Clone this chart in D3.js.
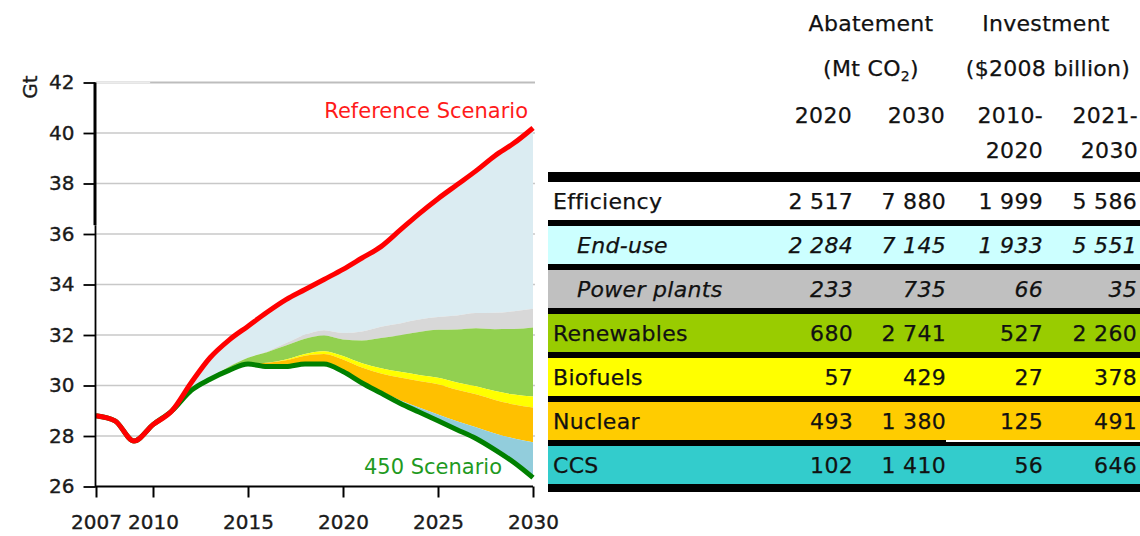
<!DOCTYPE html>
<html><head><meta charset="utf-8">
<script src="https://cdn.jsdelivr.net/npm/d3@7"></script>
<style>body{margin:0;background:#fff}svg{display:block}</style>
</head><body>
<svg id="c" width="1140" height="536"></svg>
<script>
// ---------- DATA ----------
const years = [2007,2008,2009,2010,2011,2012,2013,2014,2015,2016,2017,2018,2019,2020,2021,2022,2023,2024,2025,2026,2027,2028,2029,2030];
const referenceScenario = [28.8,28.6,27.8,28.45,29.0,30.1,31.1,31.8,32.35,32.9,33.4,33.8,34.2,34.6,35.05,35.5,36.15,36.8,37.4,37.95,38.5,39.1,39.6,40.2];
const scenario450 = [28.8,28.6,27.8,28.45,29.0,29.8,30.25,30.6,30.85,30.75,30.75,30.85,30.85,30.55,30.1,29.7,29.3,28.95,28.6,28.25,27.9,27.45,26.95,26.35];
// wedge thickness (Gt) stacked upward from the 450 Scenario line
const ccs         = [0,0,0,0,0,0,0,0,0,0,0,0,0,0.03,0.06,0.08,0.12,0.18,0.25,0.33,0.45,0.65,0.95,1.4];
const nuclear     = [0,0,0,0,0,0,0,0,0,0.15,0.25,0.33,0.4,0.45,0.55,0.7,0.9,1.05,1.2,1.25,1.3,1.33,1.35,1.38];
const biofuels    = [0,0,0,0,0,0,0,0,0,0,0.03,0.07,0.11,0.14,0.17,0.2,0.22,0.24,0.26,0.29,0.32,0.35,0.39,0.43];
const renewables  = [0,0,0,0,0,0.02,0.06,0.14,0.25,0.42,0.55,0.6,0.62,0.65,0.9,1.2,1.45,1.7,1.9,2.1,2.3,2.45,2.6,2.74];
const powerPlants = [0,0,0,0,0,0,0,0,0,0.03,0.1,0.16,0.21,0.26,0.36,0.45,0.47,0.49,0.5,0.55,0.6,0.65,0.7,0.735];
const yTicks = [26,28,30,32,34,36,38,40,42];
const xTicks = [2007,2010,2015,2020,2025,2030];

// table
const rowLabels = ["Efficiency","End-use","Power plants","Renewables","Biofuels","Nuclear","CCS"];
const abate2020 = ["2 517","2 284","233","680","57","493","102"];
const abate2030 = ["7 880","7 145","735","2 741","429","1 380","1 410"];
const invest2010_2020 = ["1 999","1 933","66","527","27","125","56"];
const invest2021_2030 = ["5 586","5 551","35","2 260","378","491","646"];
const rowItalic = [false,true,true,false,false,false,false];
const rowColors = ["#ffffff","#ccffff","#c0c0c0","#99cc00","#ffff00","#ffcc00","#33cccc"];

// ---------- CHART ----------
const svg = d3.select("#c");
svg.append("rect").attr("width",1140).attr("height",536).attr("fill","#fff");
const FONT = "DejaVu Sans, Verdana, sans-serif";

const x = d3.scaleLinear().domain([2007,2030]).range([96,533]);
const y = d3.scaleLinear().domain([26,42]).range([486.5,82.5]);

// grid
svg.append("g").selectAll("line").data(yTicks.filter(d=>d>26)).join("line")
  .attr("x1",x(2007)).attr("x2",x(2030)+2)
  .attr("y1",d=>y(d)).attr("y2",d=>y(d))
  .attr("stroke",d=>d===42?"#bdbdbd":"#c8c8c8").attr("stroke-width",d=>d===42?2:1.6);
svg.append("line").attr("x1",x(2007)).attr("x2",x(2009.85)).attr("y1",y(42)).attr("y2",y(42))
  .attr("stroke","#ececec").attr("stroke-width",2.2);

// stacked wedges
const wedgeSeries = [
  {name:"CCS", vals:ccs, color:"#92cddc"},
  {name:"Nuclear", vals:nuclear, color:"#ffc000"},
  {name:"Biofuels", vals:biofuels, color:"#ffff00"},
  {name:"Renewables", vals:renewables, color:"#92d050"},
  {name:"Power plants", vals:powerPlants, color:"#d8d8d8"}
];
const base = scenario450.slice();
const layers = [];
wedgeSeries.forEach(s=>{
  const pts = years.map((yr,i)=>({year:yr, y0:base[i], y1:base[i]+s.vals[i]}));
  pts.forEach((p,i)=>base[i]=p.y1);
  layers.push({color:s.color, pts});
});
layers.push({color:"#dbecf2", pts: years.map((yr,i)=>({year:yr, y0:base[i], y1:referenceScenario[i]}))});

const curve = d3.curveMonotoneX;
const area = d3.area().x(d=>x(d.year)).y0(d=>y(d.y0)).y1(d=>y(d.y1))
  .defined(d=>d.year>=2011).curve(curve);
layers.slice().reverse().forEach(l=>{
  svg.append("path").attr("d",area(l.pts)).attr("fill",l.color);
});

const line = d3.line().x((d,i)=>x(years[i])).y(d=>y(d)).curve(curve);
svg.append("path").attr("d",line(scenario450)).attr("fill","none")
  .attr("stroke","#008000").attr("stroke-width",5).attr("stroke-linejoin","round");
svg.append("path").attr("d",line(referenceScenario)).attr("fill","none")
  .attr("stroke","#ff0000").attr("stroke-width",5).attr("stroke-linejoin","round");

// text style helper (slightly heavier rendering like the original)
const heavy = sel => sel.attr("stroke","currentColor").attr("stroke-width",0.35);

// axes
const yAxis = svg.append("g").attr("transform",`translate(${x(2007)-0.5},0)`)
  .call(d3.axisLeft(y).tickValues(yTicks).tickSize(12).tickPadding(9).tickFormat(d3.format("d")));
yAxis.select(".domain").remove();
yAxis.selectAll(".tick line").attr("stroke","#000").attr("stroke-width",1.8);
yAxis.selectAll("text").attr("font-family",FONT).attr("font-size",20).attr("fill","#1a1a1a")
  .style("color","#1a1a1a").call(heavy);
svg.append("line").attr("x1",x(2007)-1).attr("x2",x(2007)-1).attr("y1",y(42)).attr("y2",y(36.35))
  .attr("stroke","#000").attr("stroke-width",3);
svg.append("line").attr("x1",x(2007)-0.5).attr("x2",x(2007)-0.5).attr("y1",y(36.35)).attr("y2",y(26))
  .attr("stroke","#000").attr("stroke-width",1.8);

const xAxis = svg.append("g").attr("transform",`translate(0,${y(26)})`)
  .call(d3.axisBottom(x).tickValues(xTicks).tickSize(11).tickPadding(17).tickFormat(d3.format("d")));
xAxis.select(".domain").attr("d",`M${x(2007)-1},0H${x(2030)}`).attr("stroke","#000").attr("stroke-width",2);
xAxis.selectAll(".tick line").attr("stroke","#000").attr("stroke-width",2);
xAxis.selectAll("text").attr("font-family",FONT).attr("font-size",20).attr("fill","#1a1a1a")
  .style("color","#1a1a1a").call(heavy);

svg.append("text").attr("transform","translate(37,87) rotate(-90)")
  .attr("text-anchor","middle").attr("font-family",FONT).attr("font-size",20).attr("fill","#1a1a1a")
  .style("color","#1a1a1a").call(heavy).text("Gt");

// series labels
svg.append("text").attr("x",x(2030)-5).attr("y",118).attr("text-anchor","end")
  .attr("font-family",FONT).attr("font-size",21).attr("fill","#ff1a1a").text("Reference Scenario");
svg.append("text").attr("x",x(2030)-31).attr("y",y(26.2)-7).attr("text-anchor","end")
  .attr("font-family",FONT).attr("font-size",21).attr("fill","#1f9a1f").text("450 Scenario");

// ---------- TABLE ----------
const tLeft = 548, tRight = 1140;
const colRight = [853,946,1043,1137];
const tbl = svg.append("g").attr("font-family",FONT).attr("font-size",22).attr("fill","#111")
  .attr("letter-spacing","0.3px").style("color","#111").attr("stroke","currentColor").attr("stroke-width",0.25);

const hdr = (txt,xx,yy,anchor)=>tbl.append("text").attr("x",xx).attr("y",yy).attr("text-anchor",anchor).text(txt);
hdr("Abatement",871,31,"middle");
hdr("Investment",1046,31,"middle");
const co2 = tbl.append("text").attr("x",871).attr("y",76).attr("text-anchor","middle");
co2.append("tspan").text("(Mt CO");
co2.append("tspan").attr("font-size",14).attr("dy",5).text("2");
co2.append("tspan").attr("dy",-5).text(")");
hdr("($2008 billion)",1048,76,"middle");
hdr("2020",colRight[0]-1,123,"end");
hdr("2030",colRight[1]-1,123,"end");
hdr("2010-",colRight[2],123,"end");
hdr("2021-",colRight[3]+1,123,"end");
hdr("2020",colRight[2],158,"end");
hdr("2030",colRight[3]+1,158,"end");

const rowTop = 182, pitch = 44, rowH = 38;
tbl.append("rect").attr("x",tLeft).attr("y",172).attr("width",tRight-tLeft).attr("height",10).attr("fill","#000").attr("stroke","none");
rowLabels.forEach((lab,i)=>{
  const y0 = rowTop + i*pitch;
  tbl.append("rect").attr("x",tLeft).attr("y",y0).attr("width",tRight-tLeft).attr("height",rowH).attr("fill",rowColors[i]).attr("stroke","none");
  if(i<rowLabels.length-1){
    if(lab==="Nuclear"){
      tbl.append("rect").attr("x",tLeft).attr("y",y0+rowH).attr("width",colRight[1]-tLeft).attr("height",pitch-rowH).attr("fill","#000").attr("stroke","none");
      tbl.append("rect").attr("x",colRight[1]).attr("y",y0+rowH+2).attr("width",tRight-colRight[1]).attr("height",pitch-rowH-2).attr("fill","#000").attr("stroke","none");
    } else {
      tbl.append("rect").attr("x",tLeft).attr("y",y0+rowH).attr("width",tRight-tLeft).attr("height",pitch-rowH).attr("fill","#000").attr("stroke","none");
    }
  }
  const by = y0 + rowH/2 + 8;
  const it = rowItalic[i];
  tbl.append("text").attr("x",it?577:553).attr("y",by).attr("font-style",it?"italic":"normal").text(lab);
  [abate2020,abate2030,invest2010_2020,invest2021_2030].forEach((col,j)=>{
    tbl.append("text").attr("x",colRight[j]).attr("y",by).attr("text-anchor","end")
      .attr("font-style",it?"italic":"normal").text(col[i]);
  });
});
const lastBottom = rowTop + (rowLabels.length-1)*pitch + rowH;
tbl.append("rect").attr("x",tLeft).attr("y",lastBottom).attr("width",tRight-tLeft).attr("height",8).attr("fill","#000").attr("stroke","none");
</script>
</body></html>
